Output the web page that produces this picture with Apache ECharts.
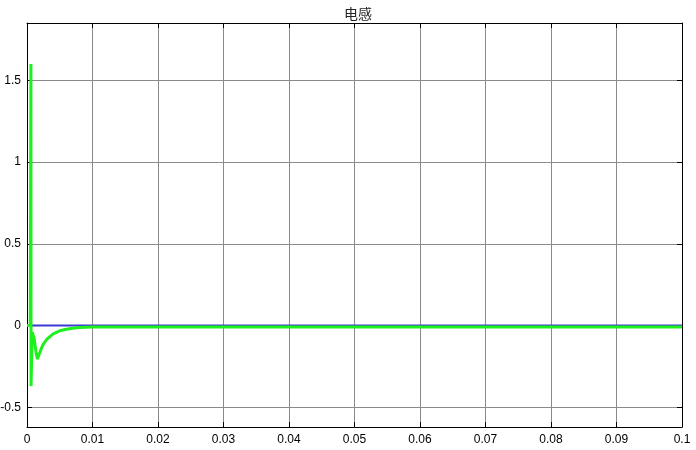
<!DOCTYPE html>
<html>
<head>
<meta charset="utf-8">
<script src="https://cdn.jsdelivr.net/npm/echarts@6/dist/echarts.min.js"></script>
<style>html,body{margin:0;padding:0;background:#fff}#c{width:696px;height:450px}</style>
</head>
<body>
<div id="c"></div>
<script>
const titleText = '电感';
const xTickValues = [0, 0.01, 0.02, 0.03, 0.04, 0.05, 0.06, 0.07, 0.08, 0.09, 0.1];
const yTickValues = [-0.5, 0, 0.5, 1, 1.5];
// green trace (time, value)
const greenTime = [0, 0.0005, 0.0006, 0.00062, 0.0008, 0.0011, 0.0014, 0.0016, 0.0019, 0.0024, 0.003, 0.004, 0.005, 0.006, 0.007, 0.008, 0.01, 0.02, 0.05, 0.1];
const greenValue = [0, 0, 1.6, -0.37, -0.04, -0.08, -0.17, -0.205, -0.17, -0.12, -0.085, -0.05, -0.032, -0.022, -0.016, -0.012, -0.009, -0.008, -0.008, -0.008];
// blue trace
const blueTime = [0, 0.1];
const blueValue = [0, 0];

const chart = echarts.init(document.getElementById('c'), null, {renderer: 'canvas'});
const lab = {fontFamily: 'Liberation Sans, Arial, sans-serif', fontSize: 12, color: '#000'};
chart.setOption({
  animation: false,
  backgroundColor: '#fff',
  title: {text: titleText, left: 353, textAlign: 'center', top: 2,
    textStyle: {fontFamily: 'Noto Sans CJK SC', fontSize: 14, fontWeight: 'normal', color: '#222'}},
  grid: {left: 27, right: 14, top: 23, bottom: 23, containLabel: false, outerBoundsMode: 'none'},
  xAxis: [{
    type: 'value', min: 0, max: 0.1, interval: 0.01, position: 'bottom',
    axisLine: {show: true, onZero: false, lineStyle: {color: '#000', width: 1}},
    axisTick: {show: true, inside: true, length: 5, lineStyle: {color: '#000'}},
    splitLine: {show: true, lineStyle: {color: '#8a8a8a', width: 1}},
    axisLabel: Object.assign({margin: 7, formatter: v => {
      const r = Math.round(v * 100) / 100; return xTickValues.indexOf(r) >= 0 ? String(r) : '';
    }}, lab)
  }, {
    type: 'value', min: 0, max: 0.1, interval: 0.01, position: 'top',
    axisLine: {show: true, onZero: false, lineStyle: {color: '#000', width: 1}},
    axisTick: {show: true, inside: true, length: 5, lineStyle: {color: '#000'}},
    splitLine: {show: false}, axisLabel: {show: false}
  }],
  yAxis: [{
    type: 'value', min: -0.62, max: 1.85, splitNumber: 5, position: 'left',
    axisLine: {show: true, onZero: false, lineStyle: {color: '#000', width: 1}},
    axisTick: {show: true, inside: true, length: 5, lineStyle: {color: '#000'}},
    splitLine: {show: true, lineStyle: {color: '#8a8a8a', width: 1}},
    axisLabel: Object.assign({margin: 6, showMinLabel: false, showMaxLabel: false, formatter: v => {
      const r = Math.round(v * 10) / 10; return yTickValues.indexOf(r) >= 0 && Math.abs(v - r) < 1e-6 ? String(r) : '';
    }}, lab)
  }, {
    type: 'value', min: -0.62, max: 1.85, splitNumber: 5, position: 'right',
    axisLine: {show: true, onZero: false, lineStyle: {color: '#000', width: 1}},
    axisTick: {show: true, inside: true, length: 5, lineStyle: {color: '#000'}},
    splitLine: {show: false}, axisLabel: {show: false}
  }],
  series: [{
    type: 'line', xAxisIndex: 0, yAxisIndex: 0, showSymbol: false, symbol: 'none',
    data: blueTime.map((t, i) => [t, blueValue[i]]),
    lineStyle: {color: '#3b3bd6', width: 2}, z: 3
  }, {
    type: 'line', xAxisIndex: 0, yAxisIndex: 0, showSymbol: false, symbol: 'none', smooth: false,
    data: greenTime.map((t, i) => [t, greenValue[i]]),
    lineStyle: {color: '#1ef01e', width: 3}, z: 4
  }]
});
</script>
</body>
</html>
